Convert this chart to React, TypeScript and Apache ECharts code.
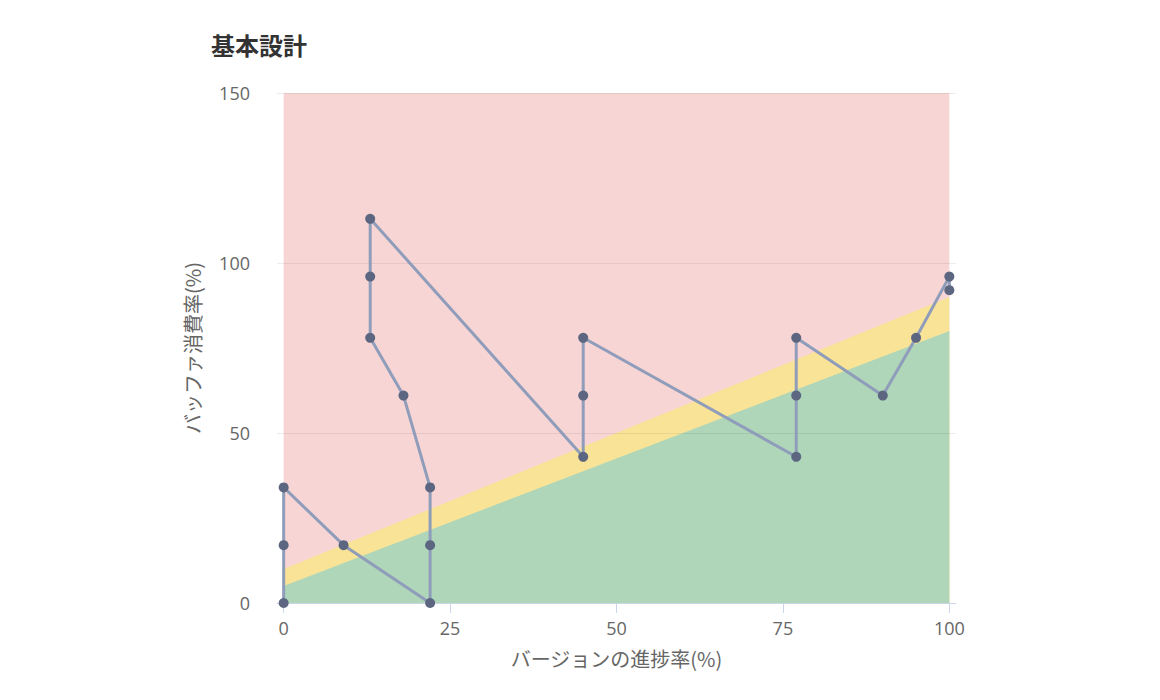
import React, { useEffect, useRef } from "react";
import * as echarts from "echarts";

// ---- data ----
const titleText = "基本設計";
const xAxisName = "バージョンの進捗率(%)";
const yAxisName = "バッファ消費率(%)";
const xTicks = [0, 25, 50, 75, 100];
const bandX = [0, 100];
const greenBandTop = [5, 80];
const yellowBandTop = [10, 90];
const redBandTop = [150, 150];
const progressX = [0, 0, 0, 9, 22, 22, 22, 18, 13, 13, 13, 45, 45, 45, 77, 77, 77, 90, 95, 100, 100];
const bufferY = [0, 17, 34, 17, 0, 17, 34, 61, 78, 96, 113, 43, 61, 78, 43, 61, 78, 61, 78, 96, 92];

const FONT = '"Open Sans", "Noto Sans CJK JP", sans-serif';
const CJK = '"Noto Sans CJK JP", "Noto Sans", sans-serif';

function band(top: number[], color: string) {
  return {
    type: "line",
    data: bandX.map((x, i) => [x, top[i]]),
    showSymbol: false,
    symbol: "none",
    silent: true,
    lineStyle: { width: 0, color },
    areaStyle: { color, opacity: 1 },
    z: 1,
  };
}

export default function App() {
  const ref = useRef<HTMLDivElement>(null);
  useEffect(() => {
    if (!ref.current) return;
    const chart = echarts.init(ref.current, undefined, { renderer: "svg" });
    chart.setOption({
      animation: false,
      backgroundColor: "#ffffff",
      textStyle: { fontFamily: FONT },
      title: {
        text: titleText,
        left: 206,
        top: 27,
        textStyle: { fontSize: 24, fontWeight: "bold", color: "#333333", fontFamily: CJK },
      },
      grid: { left: 277, right: 204, top: 93, bottom: 97, containLabel: false },
      xAxis: {
        type: "value",
        min: -1,
        max: 101,
        name: xAxisName,
        nameLocation: "middle",
        nameGap: 45,
        nameTextStyle: { fontSize: 20, color: "#666666", fontFamily: CJK },
        axisLine: { show: true, onZero: false, lineStyle: { color: "#ccd6eb", width: 1 } },
        axisTick: { show: true, length: 10, customValues: xTicks, lineStyle: { color: "#ccd6eb" } },
        axisLabel: { customValues: xTicks, margin: 16, fontSize: 18, color: "#666666", fontFamily: FONT },
        splitLine: { show: false },
        z: 3,
      },
      yAxis: {
        type: "value",
        min: 0,
        max: 150,
        interval: 50,
        name: yAxisName,
        nameLocation: "middle",
        nameGap: 75,
        nameTextStyle: { fontSize: 20, color: "#666666", fontFamily: CJK },
        axisLine: { show: false },
        axisTick: { show: false },
        axisLabel: { margin: 27, fontSize: 18, color: "#666666", fontFamily: FONT },
        splitLine: { show: true, lineStyle: { color: "rgba(0,0,0,0.07)", width: 1 } },
        z: 3,
      },
      series: [
        band(redBandTop, "#f7d5d4"),
        band(yellowBandTop, "#f9e396"),
        band(greenBandTop, "#afd6b9"),
        {
          type: "line",
          data: progressX.map((x, i) => [x, bufferY[i]]),
          symbol: "circle",
          symbolSize: 10,
          showAllSymbol: true,
          lineStyle: { color: "#8f9dbb", width: 3 },
          itemStyle: { color: "#5c6680" },
          z: 5,
        },
      ],
    });
    return () => chart.dispose();
  }, []);
  return <div ref={ref} style={{ position: "fixed", left: 0, top: 0, width: 1160, height: 700 }} />;
}
